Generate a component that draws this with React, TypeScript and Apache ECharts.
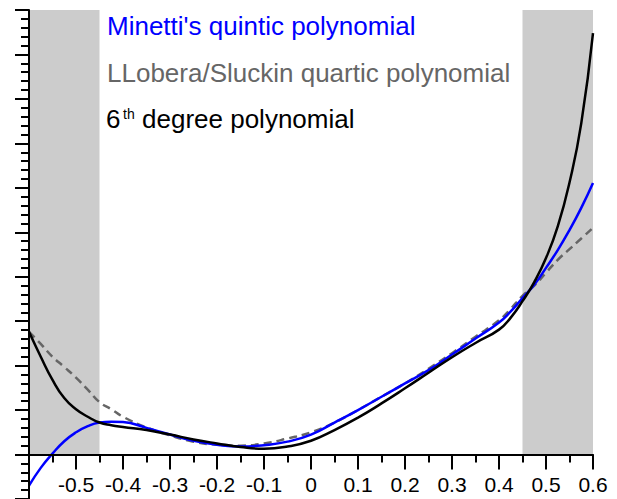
import React, { useEffect, useRef } from "react";
import * as echarts from "echarts";

const xValues = [-0.6, -0.575, -0.55, -0.525, -0.5, -0.475, -0.45, -0.425, -0.4, -0.35, -0.3, -0.25, -0.2, -0.15, -0.1, -0.05, 0, 0.05, 0.1, 0.15, 0.2, 0.25, 0.3, 0.35, 0.4, 0.425, 0.45, 0.475, 0.5, 0.525, 0.55, 0.575, 0.6];

const minettiValues = [-0.7, -0.3, 0.02, 0.3, 0.5, 0.64, 0.72, 0.74, 0.73, 0.6, 0.45, 0.31, 0.22, 0.18, 0.21, 0.29, 0.45, 0.72, 1.0, 1.3, 1.6, 1.9, 2.25, 2.61, 2.97, 3.22, 3.52, 3.82, 4.2, 4.6, 5.05, 5.55, 6.11];

const lloberaValues = [2.76, 2.49, 2.2, 1.97, 1.73, 1.46, 1.18, 1.02, 0.85, 0.61, 0.43, 0.29, 0.22, 0.2, 0.25, 0.36, 0.5, 0.72, 1.0, 1.3, 1.6, 1.93, 2.28, 2.65, 3.02, 3.28, 3.57, 3.8, 4.09, 4.38, 4.62, 4.86, 5.1];

const sixthValues = [2.76, 2.2, 1.68, 1.27, 1.02, 0.85, 0.72, 0.66, 0.62, 0.55, 0.45, 0.34, 0.25, 0.17, 0.13, 0.18, 0.31, 0.55, 0.83, 1.15, 1.49, 1.84, 2.19, 2.51, 2.81, 3.08, 3.45, 3.88, 4.42, 5.13, 6.12, 7.45, 9.48];

const shadedRanges = [
  [-0.6, -0.45],
  [0.45, 0.6],
];

const legendLabels = ["Minetti's quintic polynomial", "LLobera/Sluckin quartic polynomial", "6", "th", "degree polynomial"];

const FONT = 'Arial, "Liberation Sans", sans-serif';

const X_MIN = -0.6;
const X_MAX = 0.6;
const Y_MIN = -1;
const Y_MAX = 10;

export default function App() {
  const ref = useRef<HTMLDivElement>(null);

  useEffect(() => {
    if (!ref.current) return;
    const chart = echarts.init(ref.current, undefined, { renderer: "svg" });
    const toPairs = (arr: number[]) => xValues.map((x, i) => [x, arr[i]]);
    const tickColor = "#000";

    const H = 499;
    const gridTop = 10;
    const gridBottom = 0;
    const gridH = H - gridTop - gridBottom;
    // second grid ends where y = 0 lies in the main grid
    const zeroBottom = gridBottom + (gridH * (0 - Y_MIN)) / (Y_MAX - Y_MIN);

    const option: any = {
      animation: false,
      grid: [
        { left: 29, right: 24, top: gridTop, bottom: gridBottom, containLabel: false, outerBoundsMode: "none" },
        { left: 29, right: 24, top: gridTop, bottom: zeroBottom, containLabel: false, outerBoundsMode: "none" },
      ],
      xAxis: [
        {
          type: "value",
          gridIndex: 0,
          min: X_MIN,
          max: X_MAX,
          interval: 0.1,
          show: false,
          splitLine: { show: false },
        },
        {
          type: "value",
          gridIndex: 1,
          min: X_MIN,
          max: X_MAX,
          interval: 0.1,
          z: 10,
          axisLine: { show: true, onZero: false, lineStyle: { color: tickColor, width: 2 } },
          axisTick: { show: true, length: 15, lineStyle: { color: tickColor, width: 2 } },
          minorTick: { show: true, splitNumber: 2, length: 8, lineStyle: { color: tickColor, width: 2 } },
          splitLine: { show: false },
          minorSplitLine: { show: false },
          axisLabel: {
            showMinLabel: false,
            fontSize: 21,
            color: "#000",
            margin: 19,
            fontFamily: FONT,
            formatter: (v: number) => String(Number(v.toFixed(1))),
          },
        },
      ],
      yAxis: [
        {
          type: "value",
          gridIndex: 0,
          min: Y_MIN,
          max: Y_MAX,
          interval: 1,
          z: 10,
          axisLine: { show: true, onZero: false, lineStyle: { color: tickColor, width: 2 } },
          axisTick: { show: true, length: 14, lineStyle: { color: tickColor, width: 2 } },
          minorTick: { show: true, splitNumber: 5, length: 8, lineStyle: { color: tickColor, width: 2 } },
          splitLine: { show: false },
          minorSplitLine: { show: false },
          axisLabel: { show: false },
        },
        {
          type: "value",
          gridIndex: 1,
          min: 0,
          max: Y_MAX,
          show: false,
          splitLine: { show: false },
        },
      ],
      graphic: [
        {
          type: "text",
          x: 107,
          y: 26,
          style: { text: legendLabels[0], fill: "#0000ff", fontSize: 26, fontFamily: FONT, verticalAlign: "middle" },
        },
        {
          type: "text",
          x: 107,
          y: 72.5,
          style: { text: legendLabels[1], fill: "#666666", fontSize: 26, fontFamily: FONT, verticalAlign: "middle" },
        },
        {
          type: "text",
          x: 106,
          y: 119,
          style: { text: legendLabels[2], fill: "#000", fontSize: 26, fontFamily: FONT, verticalAlign: "middle" },
        },
        {
          type: "text",
          x: 123,
          y: 114,
          style: { text: legendLabels[3], fill: "#000", fontSize: 14, fontFamily: FONT, verticalAlign: "middle" },
        },
        {
          type: "text",
          x: 142,
          y: 119,
          style: { text: legendLabels[4], fill: "#000", fontSize: 26, fontFamily: FONT, verticalAlign: "middle" },
        },
      ],
      series: [
        {
          type: "line",
          xAxisIndex: 0,
          yAxisIndex: 0,
          data: [],
          silent: true,
          markArea: {
            silent: true,
            itemStyle: { color: "#cccccc", opacity: 1 },
            data: shadedRanges.map(([a, b]) => [
              { xAxis: a, yAxis: 0 },
              { xAxis: b, yAxis: Y_MAX },
            ]),
          },
        },
        {
          name: "LLobera/Sluckin quartic polynomial",
          type: "line",
          xAxisIndex: 0,
          yAxisIndex: 0,
          data: toPairs(lloberaValues),
          smooth: true,
          showSymbol: false,
          lineStyle: { color: "#666666", width: 2.5, type: [8, 5] },
        },
        {
          name: "Minetti's quintic polynomial",
          type: "line",
          xAxisIndex: 0,
          yAxisIndex: 0,
          data: toPairs(minettiValues),
          smooth: true,
          showSymbol: false,
          lineStyle: { color: "#0000ff", width: 2.5 },
        },
        {
          name: "6th degree polynomial",
          type: "line",
          xAxisIndex: 0,
          yAxisIndex: 0,
          data: toPairs(sixthValues),
          smooth: true,
          showSymbol: false,
          lineStyle: { color: "#000000", width: 2.5 },
        },
      ],
    };
    chart.setOption(option);
    return () => chart.dispose();
  }, []);

  return (
    <div
      ref={ref}
      style={{ position: "absolute", left: 0, top: 0, width: 617, height: 499 }}
    />
  );
}
